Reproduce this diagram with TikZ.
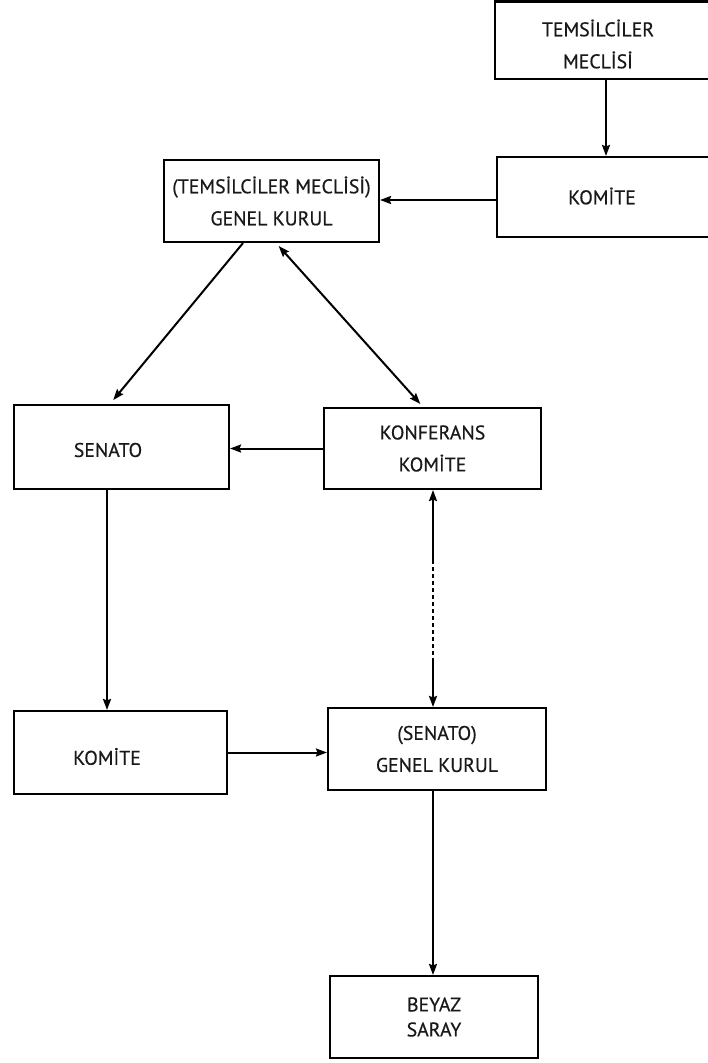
\documentclass[tikz,border=0pt]{standalone}
\usepackage{fontspec}
\setmainfont{PT Sans}
\newfontfamily\diagfont{PT Sans}[FakeBold=0.5]
\usetikzlibrary{arrows.meta}
\begin{document}
\begin{tikzpicture}[x=1pt,y=-1pt,
  box/.style={draw=black, line width=2.1pt, rectangle, inner sep=0pt,
    font=\diagfont\fontsize{19.8}{32}\selectfont, align=center, text=black!90},
  lbl/.style={font=\diagfont\fontsize{19.8}{32}\selectfont, align=center, text=black!90, inner sep=0pt},
  tip/.tip={Stealth[length=11pt,width=8pt,inset=1.5pt]},
  arr/.style={line width=2pt, -tip},
  darr/.style={line width=2pt, tip-tip},
  dotseg/.style={line width=2.2pt, dash pattern=on 4pt off 3pt}
]
\useasboundingbox (0,0) rectangle (708,1063);
\begin{scope}
\clip (0,0) rectangle (708,1063);
% boxes
\node[box, minimum width=225pt, minimum height=77.5pt,
  label={[lbl, xshift=-9.5pt, yshift=-3.75pt]center:TEMSİLCİLER\\MECLİSİ}] (tm) at (607.5,40.25) {};
\node[box, minimum width=223pt, minimum height=80pt,
  label={[lbl, xshift=-6.5pt, yshift=1pt]center:KOMİTE}] (kr) at (608.5,197) {};
\node[box, minimum width=215pt, minimum height=82pt] (gk) at (271.5,201) {(TEMSİLCİLER MECLİSİ)\\GENEL KURUL};
\node[box, minimum width=215pt, minimum height=84pt,
  label={[lbl, xshift=-13.5pt, yshift=-3pt]center:SENATO}] (sen) at (121.5,447) {};
\node[box, minimum width=217pt, minimum height=81pt] (konf) at (432.5,448.5) {KONFERANS\\KOMİTE};
\node[box, minimum width=213pt, minimum height=83pt,
  label={[lbl, xshift=-13.5pt, yshift=-4pt]center:KOMİTE}] (kl) at (120.5,752.5) {};
\node[box, minimum width=218pt, minimum height=82pt] (sgk) at (437,749) {(SENATO)\\GENEL KURUL};
\node[box, minimum width=208pt, minimum height=82pt, font=\diagfont\fontsize{19.8}{25}\selectfont] (bey) at (434,1017) {BEYAZ\\SARAY};
% connectors
\draw[arr] ([xshift=-1.5pt]tm.south) -- ([xshift=-2.5pt]kr.north);
\draw[arr] (kr.west |- 0,200) -- (gk.east |- 0,200);
\draw[arr, shorten >=5pt] ([xshift=-28.5pt]gk.south) -- ([xshift=-11.5pt]sen.north);
\draw[darr, shorten >=4pt, shorten <=4pt] ([xshift=4.5pt]gk.south) -- ([xshift=-9.5pt]konf.north);
\draw[arr] (konf.west) -- (konf.west -| sen.east);
\draw[arr] ([xshift=-14.5pt]sen.south) -- ([xshift=-13.5pt]kl.north);
\coordinate (d1) at (433,560);
\coordinate (d2) at (433,660);
\draw[line width=2pt, tip-] (d1 |- konf.south) -- (d1);
\draw[dotseg] (d1) -- (d2);
\draw[arr] (d2) -- (d2 |- sgk.north);
\draw[arr] (kl.east) -- (kl.east -| sgk.west);
\draw[arr] ([xshift=-4pt]sgk.south) -- ([xshift=-1pt]bey.north);
\end{scope}
\end{tikzpicture}
\end{document}
